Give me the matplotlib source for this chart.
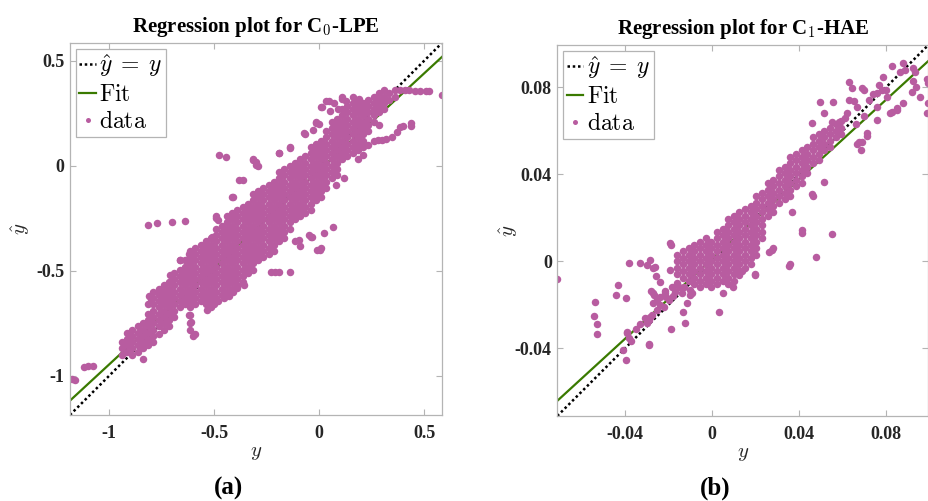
import matplotlib.pyplot as plt
from matplotlib.lines import Line2D
import numpy as np

plt.rcParams['mathtext.fontset'] = 'cm'
plt.rcParams['font.family'] = ['Liberation Serif', 'DejaVu Serif']

# ---- panel (a): C0-LPE -------------------------------------------------
# dense band, read column by column: (y, list of y_hat)
a_cols = [
    (-0.94, [-0.84, -0.87, -0.90]),
    (-0.915, [-0.795, -0.825, -0.855, -0.885]),
    (-0.89, [-0.78, -0.81, -0.84, -0.87, -0.90]),
    (-0.865, [-0.765, -0.795, -0.825, -0.855, -0.885]),
    (-0.84, [-0.75, -0.78, -0.81, -0.84, -0.87, -0.92]),
    (-0.815, [-0.66, -0.705, -0.735, -0.765, -0.795, -0.825, -0.855]),
    (-0.79, [-0.60, -0.63, -0.66, -0.69, -0.72, -0.75, -0.78, -0.81, -0.84]),
    (-0.765, [-0.585, -0.615, -0.645, -0.675, -0.705, -0.735, -0.765, -0.80]),
    (-0.74, [-0.57, -0.60, -0.63, -0.66, -0.69, -0.72, -0.75, -0.78]),
    (-0.715, [-0.555, -0.585, -0.615, -0.645, -0.675, -0.705, -0.735, -0.765]),
    (-0.69, [-0.51, -0.54, -0.57, -0.60, -0.63, -0.66, -0.69, -0.72]),
    (-0.665, [-0.45, -0.495, -0.525, -0.555, -0.585, -0.615, -0.645, -0.675]),
    (-0.64, [-0.45, -0.48, -0.51, -0.54, -0.57, -0.60, -0.63, -0.66]),
    (-0.615, [-0.405, -0.435, -0.465, -0.495, -0.525, -0.555, -0.585, -0.615, -0.645, -0.675, -0.71, -0.75]),
    (-0.59, [-0.39, -0.42, -0.45, -0.48, -0.51, -0.54, -0.57, -0.60, -0.63, -0.66, -0.80]),
    (-0.565, [-0.375, -0.405, -0.435, -0.465, -0.495, -0.525, -0.555, -0.585, -0.615, -0.645]),
    (-0.54, [-0.36, -0.39, -0.42, -0.45, -0.48, -0.51, -0.54, -0.57, -0.60, -0.63, -0.66]),
    (-0.515, [-0.345, -0.375, -0.405, -0.435, -0.465, -0.495, -0.525, -0.555, -0.585, -0.615, -0.645, -0.675]),
    (-0.49, [-0.24, -0.30, -0.33, -0.36, -0.39, -0.42, -0.45, -0.48, -0.51, -0.54, -0.57, -0.60, -0.63]),
    (-0.465, [-0.285, -0.315, -0.345, -0.375, -0.405, -0.435, -0.465, -0.495, -0.525, -0.555, -0.585, -0.615]),
    (-0.44, [-0.24, -0.27, -0.30, -0.33, -0.36, -0.39, -0.42, -0.45, -0.48, -0.51, -0.54, -0.57, -0.60]),
    (-0.415, [-0.15, -0.225, -0.255, -0.285, -0.315, -0.345, -0.375, -0.405, -0.435, -0.465, -0.495, -0.525, -0.555, -0.585]),
    (-0.39, [-0.21, -0.24, -0.27, -0.30, -0.33, -0.36, -0.39, -0.42, -0.45, -0.48, -0.51, -0.54, -0.57]),
    (-0.365, [-0.07, -0.195, -0.225, -0.255, -0.285, -0.315, -0.345, -0.375, -0.405, -0.435, -0.465, -0.495, -0.525, -0.555]),
    (-0.34, [-0.18, -0.21, -0.24, -0.27, -0.30, -0.33, -0.36, -0.39, -0.42, -0.45, -0.48, -0.51]),
    (-0.315, [0.03, -0.135, -0.165, -0.195, -0.225, -0.255, -0.285, -0.315, -0.345, -0.375, -0.405, -0.435, -0.465, -0.495]),
    (-0.29, [0.00, -0.12, -0.15, -0.18, -0.21, -0.24, -0.27, -0.30, -0.33, -0.36, -0.39, -0.42, -0.45]),
    (-0.265, [-0.105, -0.135, -0.165, -0.195, -0.225, -0.255, -0.285, -0.315, -0.345, -0.375, -0.405, -0.435]),
    (-0.24, [-0.09, -0.12, -0.15, -0.18, -0.21, -0.24, -0.27, -0.30, -0.33, -0.36, -0.39, -0.42]),
    (-0.215, [-0.075, -0.105, -0.135, -0.165, -0.195, -0.225, -0.255, -0.285, -0.315, -0.345, -0.375, -0.405]),
    (-0.19, [0.06, -0.03, -0.06, -0.09, -0.12, -0.15, -0.18, -0.21, -0.24, -0.27, -0.30, -0.33, -0.36]),
    (-0.165, [-0.015, -0.045, -0.075, -0.105, -0.135, -0.165, -0.195, -0.225, -0.255, -0.285, -0.315, -0.345]),
    (-0.14, [0.09, 0.00, -0.03, -0.06, -0.09, -0.12, -0.15, -0.18, -0.21, -0.24, -0.27, -0.30]),
    (-0.115, [0.015, -0.015, -0.045, -0.075, -0.105, -0.135, -0.165, -0.195, -0.225, -0.255, -0.36]),
    (-0.09, [0.03, 0.00, -0.03, -0.06, -0.09, -0.12, -0.15, -0.18, -0.21, -0.24, -0.38]),
    (-0.065, [0.15, 0.045, 0.015, -0.015, -0.045, -0.075, -0.105, -0.135, -0.165, -0.195, -0.225]),
    (-0.04, [0.09, 0.06, 0.03, 0.00, -0.03, -0.06, -0.09, -0.12, -0.15, -0.18, -0.21, -0.34]),
    (-0.015, [0.21, 0.105, 0.075, 0.045, 0.015, -0.015, -0.045, -0.075, -0.105, -0.135, -0.165]),
    (0.01, [0.28, 0.12, 0.09, 0.06, 0.03, 0.00, -0.03, -0.06, -0.09, -0.12, -0.15]),
    (0.035, [0.31, 0.165, 0.135, 0.105, 0.075, 0.045, 0.015, -0.015, -0.045, -0.075, -0.105]),
    (0.06, [0.21, 0.18, 0.15, 0.12, 0.09, 0.06, 0.03, 0.00, -0.03, -0.06]),
    (0.085, [0.225, 0.195, 0.165, 0.135, 0.105, 0.075, 0.045, 0.015, -0.015, -0.045]),
    (0.11, [0.33, 0.27, 0.24, 0.21, 0.18, 0.15, 0.12, 0.09, 0.06, 0.03]),
    (0.135, [0.285, 0.255, 0.225, 0.195, 0.165, 0.135, 0.105, 0.075, 0.045]),
    (0.16, [0.30, 0.27, 0.24, 0.21, 0.18, 0.15, 0.12, 0.09, 0.06]),
    (0.185, [0.315, 0.285, 0.255, 0.225, 0.195, 0.165, 0.135, 0.105, 0.075, 0.03]),
    (0.21, [0.30, 0.27, 0.24, 0.21, 0.18, 0.15, 0.12, 0.09, 0.05]),
    (0.235, [0.315, 0.285, 0.255, 0.225, 0.195, 0.165, 0.10]),
    (0.26, [0.33, 0.30, 0.27, 0.24, 0.21, 0.12]),
    (0.285, [0.345, 0.315, 0.285, 0.255, 0.195]),
    (0.31, [0.36, 0.33, 0.30, 0.27]),
    (0.335, [0.345, 0.315]),
    (0.36, [0.36, 0.33]),
    (0.385, [0.36]),
]
# scattered points outside the band
a_out = [
    (-1.175, -1.015), (-1.165, -1.02), (-1.12, -0.96), (-1.10, -0.955), (-1.075, -0.955),
    (-0.813, -0.281), (-0.77, -0.271), (-0.699, -0.267), (-0.641, -0.262),
    (-0.479, 0.052), (-0.446, 0.043),
    (-0.23, -0.505), (-0.21, -0.505), (-0.19, -0.505), (-0.141, -0.505),
    (0.002, -0.40), (0.01, -0.39),
    (0.41, 0.36), (0.43, 0.36), (0.455, 0.355), (0.48, 0.357), (0.51, 0.355),
    (0.525, 0.357), (0.583, 0.338),
    (0.282, 0.124), (0.30, 0.125), (0.32, 0.129), (0.349, 0.138), (0.373, 0.162),
    (0.387, 0.186), (0.40, 0.19), (0.44, 0.205), (0.44, 0.19),
    (0.064, -0.29), (0.025, -0.32), (-0.036, -0.34), (-0.094, -0.352),
    (-0.046, -0.329), (-0.008, -0.40), (0.08, -0.09), (0.12, -0.06),
    (-0.536, -0.686), (-0.617, -0.78), (-0.60, -0.81), (-0.61, -0.745), (-0.62, -0.71),
    (-0.52, -0.67), (-0.50, -0.66), (-0.48, -0.645), (-0.455, -0.63), (-0.43, -0.62),
    (-0.41, -0.60), (-0.39, -0.58), (-0.36, -0.57),
    (-0.54, -0.385), (-0.62, -0.42), (-0.665, -0.45), (-0.71, -0.52), (-0.76, -0.60),
    (-0.81, -0.62), (-0.80, -0.635), (-0.49, -0.248), (-0.48, -0.26), (-0.51, -0.34),
    (-0.41, -0.15), (-0.38, -0.067), (-0.30, 0.02), (-0.317, 0.029), (-0.30, 0.005),
    (-0.19, 0.06), (-0.14, 0.086), (-0.07, 0.157), (-0.013, 0.205), (-0.03, 0.17),
    (0.012, 0.28), (0.049, 0.31), (0.11, 0.32), (0.07, 0.30), (0.09, 0.27),
    (0.13, 0.31), (0.16, 0.33), (0.19, 0.32), (0.0, 0.20), (0.05, 0.26),
]
a_lim = [-1.187, 0.585]
a_fit = [0.924, -0.022]
a_ticks = [-1, -0.5, 0, 0.5]
a_ticklabels = ['-1', '-0.5', '0', '0.5']

# ---- panel (b): C1-HAE -------------------------------------------------
b_cols = [
    (-0.0160, [0.003, 0.000, -0.003, -0.006]),
    (-0.0134, [0.0045, 0.0015, -0.0015, -0.0045, -0.0075]),
    (-0.0108, [0.006, 0.003, 0.000, -0.003, -0.006, -0.009]),
    (-0.0082, [0.0075, 0.0045, 0.0015, -0.0015, -0.0045, -0.0075, -0.0105]),
    (-0.0056, [0.009, 0.006, 0.003, 0.000, -0.003, -0.006, -0.009, -0.012]),
    (-0.0030, [0.0105, 0.0075, 0.0045, 0.0015, -0.0015, -0.0045, -0.0075, -0.0105]),
    (-0.0004, [0.009, 0.006, 0.003, 0.000, -0.003, -0.006, -0.009, -0.012]),
    (0.0022, [0.0135, 0.0105, 0.0075, 0.0045, 0.0015, -0.0015, -0.0045, -0.0075, -0.0105]),
    (0.0048, [0.015, 0.012, 0.009, 0.006, 0.003, 0.000, -0.003, -0.006, -0.009]),
    (0.0074, [0.0195, 0.0165, 0.0135, 0.0105, 0.0075, 0.0045, 0.0015, -0.0015, -0.0045, -0.0075, -0.0105]),
    (0.0100, [0.021, 0.018, 0.015, 0.012, 0.009, 0.006, 0.003, 0.000, -0.003, -0.006, -0.009]),
    (0.0126, [0.0225, 0.0195, 0.0165, 0.0135, 0.0105, 0.0075, 0.0045, 0.0015, -0.0015, -0.0045, -0.0065]),
    (0.0152, [0.024, 0.021, 0.018, 0.015, 0.012, 0.009, 0.006, 0.003, 0.000, -0.003]),
    (0.0178, [0.0255, 0.0225, 0.0195, 0.0165, 0.0135, 0.0105, 0.0075, 0.0045, 0.0015, -0.0015]),
    (0.0204, [0.030, 0.027, 0.024, 0.021, 0.018, 0.015, 0.012, 0.009, 0.006, 0.003]),
    (0.0230, [0.0315, 0.0285, 0.0255, 0.0225, 0.0195, 0.0165, 0.0135, 0.0105]),
    (0.0256, [0.036, 0.033, 0.030, 0.027, 0.024, 0.021]),
    (0.0282, [0.0375, 0.0345, 0.0315, 0.0285, 0.0255, 0.0225]),
    (0.0308, [0.042, 0.039, 0.036, 0.033, 0.030, 0.027]),
    (0.0334, [0.0435, 0.0405, 0.0375, 0.0345, 0.0315, 0.0285]),
    (0.0360, [0.048, 0.045, 0.042, 0.039, 0.036, 0.033, 0.030]),
    (0.0386, [0.0495, 0.0465, 0.0435, 0.0405, 0.0375, 0.0345]),
    (0.0412, [0.051, 0.048, 0.045, 0.042, 0.039, 0.036]),
    (0.0438, [0.0525, 0.0495, 0.0465, 0.0435, 0.0405]),
    (0.0464, [0.057, 0.054, 0.051, 0.048, 0.045]),
    (0.0490, [0.0585, 0.0555, 0.0525, 0.0495, 0.0465]),
    (0.0516, [0.060, 0.057, 0.054, 0.051]),
    (0.0542, [0.0615, 0.0585, 0.0555, 0.0525]),
    (0.0568, [0.063, 0.060, 0.057]),
    (0.0594, [0.0645, 0.0615, 0.0585]),
]
b_out = [
    (-0.0714, -0.0083), (-0.054, -0.0189), (-0.0545, -0.0253), (-0.053, -0.029),
    (-0.053, -0.0333), (-0.0443, -0.0157), (-0.0433, -0.011), (-0.0398, -0.017),
    (-0.0383, -0.001), (-0.0332, -0.001), (-0.0299, -0.0018), (-0.0287, 0.0005),
    (-0.027, -0.003), (-0.0262, -0.0025), (-0.026, -0.0069), (-0.024, -0.0097),
    (-0.0194, 0.0083), (-0.0187, 0.0075), (-0.0194, -0.0041),
    (-0.027, -0.0147), (-0.0268, -0.0156), (-0.028, -0.0135), (-0.0218, -0.0138),
    (-0.021, -0.0165), (-0.027, -0.019), (-0.0255, -0.0225), (-0.0277, -0.0248),
    (-0.029, -0.027), (-0.030, -0.0285), (-0.0287, -0.0257),
    (-0.0392, -0.033), (-0.038, -0.0354), (-0.0375, -0.0368), (-0.0393, -0.0327),
    (-0.041, -0.041), (-0.0398, -0.0455), (-0.029, -0.038), (-0.0288, -0.0385),
    (-0.019, -0.031), (-0.0126, -0.0285), (-0.0135, -0.0235), (-0.0117, -0.019),
    (-0.0103, -0.0157), (-0.0093, -0.0145), (-0.024, -0.0165), (-0.0218, -0.0147),
    (-0.022, -0.021), (-0.0186, -0.012), (-0.016, -0.010), (-0.014, -0.0147),
    (-0.0103, -0.0133), (-0.0255, -0.018), (-0.033, -0.029), (-0.031, -0.026),
    (-0.035, -0.031), (-0.024, -0.020), (-0.020, -0.018), (-0.017, -0.014),
    (-0.015, -0.012), (-0.018, -0.016), (-0.013, -0.012),
    (0.0034, -0.0235), (0.0095, -0.012), (0.005, -0.0147), (0.0196, -0.0064),
    (0.0196, -0.0058), (0.0136, -0.0046), (0.0264, 0.0041), (0.0274, 0.005),
    (0.028, 0.006), (0.0356, -0.0023), (0.0358, -0.0015), (0.048, 0.0018),
    (0.0416, 0.0143), (0.055, 0.0124), (0.0366, 0.0225), (0.046, 0.031),
    (0.0465, 0.030), (0.0517, 0.0363), (0.0416, 0.0129),
    (0.0462, 0.0635), (0.0495, 0.0731), (0.0555, 0.0731), (0.0517, 0.068),
    (0.055, 0.064), (0.0586, 0.064), (0.0632, 0.0823), (0.0646, 0.0795),
    (0.0701, 0.079), (0.0632, 0.074), (0.0665, 0.0708), (0.069, 0.0795),
    (0.0655, 0.0736), (0.076, 0.0708), (0.0785, 0.0846), (0.078, 0.0786),
    (0.0757, 0.0773), (0.077, 0.081), (0.083, 0.090), (0.0877, 0.091),
    (0.0863, 0.0869), (0.0886, 0.0878), (0.0923, 0.089), (0.0932, 0.0869),
    (0.0923, 0.083), (0.094, 0.080), (0.0918, 0.0777), (0.0955, 0.0754),
    (0.0987, 0.084), (0.0987, 0.068), (0.0877, 0.0726), (0.085, 0.0694),
    (0.0817, 0.068), (0.0826, 0.0685), (0.0849, 0.0703), (0.0807, 0.0754),
    (0.0761, 0.0648), (0.0711, 0.0589), (0.0715, 0.0575), (0.0678, 0.0547),
    (0.0687, 0.051), (0.069, 0.0547), (0.0665, 0.054), (0.0992, 0.082),
    (0.0992, 0.0726), (0.061, 0.066), (0.072, 0.074), (0.074, 0.077),
    (0.080, 0.079), (0.062, 0.068), (0.066, 0.063), (0.070, 0.067),
]
b_lim = [-0.0712, 0.0995]
b_fit = [0.916, 0.0010]
b_ticks = [-0.04, 0, 0.04, 0.08]
b_ticklabels = ['-0.04', '0', '0.04', '0.08']

pink = '#B85CA0'
green = '#3A7A00'
edge = '#B4B4B4'
txt = '#262626'


def unpack(cols, extra):
    xs, ys = [], []
    for x, yl in cols:
        for y in yl:
            xs.append(x)
            ys.append(y)
    for x, y in extra:
        xs.append(x)
        ys.append(y)
    return np.array(xs), np.array(ys)


def draw(ax, cols, extra, lim, fit, ticks, ticklabels, title, ypad):
    xs, ys = unpack(cols, extra)
    lx = np.array(lim)
    ax.plot(lx, lx, color='k', lw=1.8, linestyle=(0, (1, 1.1)))
    ax.plot(lx, fit[0] * lx + fit[1], color=green, lw=1.6)
    ax.plot(xs, ys, 'o', color=pink, ms=5.4, mew=0, linestyle='none')
    ax.set_xlim(lim)
    ax.set_ylim(lim)
    ax.set_xticks(ticks)
    ax.set_yticks(ticks)
    ax.set_xticklabels(ticklabels, fontweight='bold')
    ax.set_yticklabels(ticklabels, fontweight='bold')
    ax.tick_params(direction='in', length=4, width=0.8, color=edge, labelcolor=txt,
                   labelsize=13, top=True, right=True)
    ax.tick_params(axis='x', pad=7)
    ax.tick_params(axis='y', pad=4)
    for s in ax.spines.values():
        s.set_color(edge)
        s.set_linewidth(0.9)
    ax.set_title(title, fontweight='bold', fontsize=15, color='k', pad=8)
    ax.set_xlabel('$y$', fontsize=15, color=txt, labelpad=1)
    ax.set_ylabel('$\\hat{y}$', fontsize=15, color=txt, labelpad=ypad)
    handles = [Line2D([], [], color='k', lw=1.8, linestyle=(0, (1, 1.1))),
               Line2D([], [], color=green, lw=1.6),
               Line2D([], [], marker='o', color=pink, ms=3.6, mew=0, linestyle='none')]
    leg = ax.legend(handles, ['$\\hat{y}\\;=\\;y$', '$\\mathrm{Fit}$', '$\\mathrm{data}$'],
                    loc='upper left', fontsize=17, handlelength=0.7, handletextpad=0.15,
                    borderpad=0.15, labelspacing=0.22, borderaxespad=0.25,
                    fancybox=False, framealpha=1, edgecolor=edge)
    leg.get_frame().set_linewidth(0.9)


fig = plt.figure(figsize=(9.29, 5.01), dpi=100)
ax1 = fig.add_axes([0.0753, 0.1717, 0.4004, 0.7425])
ax2 = fig.add_axes([0.5999, 0.1697, 0.3994, 0.7405])

draw(ax1, a_cols, a_out, a_lim, a_fit, a_ticks, a_ticklabels,
     'Regression plot for C$_\\mathbf{0}$-LPE', 3)
draw(ax2, b_cols, b_out, b_lim, b_fit, b_ticks, b_ticklabels,
     'Regression plot for C$_\\mathbf{1}$-HAE', -3.5)

fig.text(229 / 929, 1 - 488 / 501, '(a)', ha='center', va='center', fontweight='bold', fontsize=18)
fig.text(715 / 929, 1 - 488 / 501, '(b)', ha='center', va='center', fontweight='bold', fontsize=18)

fig.savefig('out.png', dpi=100)
